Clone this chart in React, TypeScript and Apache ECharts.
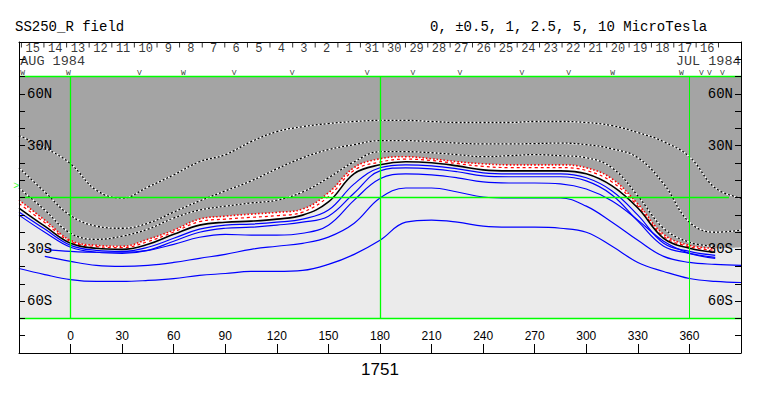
import React, { useEffect, useRef } from "react";
import * as echarts from "echarts";

// Longitude samples (degrees) shared by all contour arrays
const LON = [-30, -15, 0, 15, 30, 45, 60, 75, 90, 105, 120, 135, 150, 165, 180, 195, 210, 225, 240, 255, 270, 285, 300, 315, 330, 345, 360, 375, 390];

// Contour latitudes (degrees)
const PLUS_5 = [35.8, 28.8, 19.5, 4.2, -0.3, 6.1, 13.1, 20.7, 24.8, 32.3, 38.1, 41.0, 42.8, 44.0, 44.6, 44.6, 44.0, 43.4, 43.4, 43.4, 44.0, 44.0, 43.4, 41.6, 37.6, 32.3, 23.6, 5.5, -0.3];
const PLUS_2_5 = [17.2, 3.2, -10.5, -16.6, -17.8, -14.9, -8.4, -2.0, 3.8, 9.6, 16.6, 23.0, 27.7, 30.6, 32.9, 32.9, 32.3, 31.5, 31.0, 31.0, 31.2, 31.5, 30.6, 28.2, 23.0, 7.9, -14.3, -20.1, -18.9];
const PLUS_1 = [5.5, -7.3, -20.7, -24.2, -22.4, -18.3, -11.9, -7.3, -5.0, -3.2, -1.5, 3.2, 11.4, 20.7, 26.5, 26.5, 25.9, 24.8, 23.6, 24.2, 24.8, 24.2, 23.0, 17.2, 0.9, -17.8, -25.9, -28.3, null];
const PLUS_0_5 = [-1.5, -13.1, -24.8, -27.7, -28.2, -24.2, -18.9, -12.5, -10.8, -9.6, -8.6, -6.7, 2.7, 17.4, 22.4, 23.6, 22.4, 20.7, 19.5, 18.9, 18.9, 18.9, 17.2, 10.8, -3.8, -21.3, -27.7, -29.4, -28.8];
const RED_DASH = [-3.5, -14.5, -25.5, -28.4, -29.0, -25.5, -20.0, -14.0, -12.5, -11.5, -10.5, -8.5, 0.5, 15.8, 20.5, 22.2, 21.4, 19.6, 18.0, 17.3, 17.3, 17.3, 15.6, 9.0, -5.0, -22.5, -28.5, -30.5, null];
const ZERO = [-6.1, -16.6, -26.5, -29.4, -30.0, -27.1, -21.3, -16.0, -14.3, -13.7, -12.5, -10.2, -2.6, 13.8, 18.9, 20.7, 20.1, 18.3, 16.0, 15.4, 15.4, 15.4, 13.7, 6.7, -6.1, -23.6, -29.4, -31.7, null];
const MINUS_0_5 = [-8.4, -18.3, -27.7, -30.6, -31.2, -28.8, -23.6, -18.3, -16.0, -15.4, -14.3, -12.5, -7.3, 7.9, 17.2, 18.9, 18.3, 16.6, 14.3, 13.7, 13.7, 13.7, 11.4, 3.8, -10.2, -26.5, -31.2, -33.5, null];
const MINUS_1 = [-10.2, -20.1, -28.8, -31.7, -32.3, -30.6, -25.3, -20.1, -17.8, -17.2, -16.0, -14.3, -10.8, 2.6, 15.4, 17.2, 16.6, 14.9, 12.5, 12.0, 12.0, 12.0, 9.6, 1.5, -13.7, -28.2, -32.3, -34.6, null];
const MINUS_2_5 = [null, -30.0, -31.2, -31.7, -31.7, -30.6, -27.1, -23.0, -21.3, -21.8, -21.8, -20.7, -16.0, -1.5, 10.8, 13.7, 13.1, 11.4, 9.0, 8.4, 8.4, 7.9, 4.9, -2.0, -13.1, -25.3, -32.3, -35.2, null];
const MINUS_5 = [null, -34.1, -37.0, -39.3, -39.9, -39.3, -37.6, -35.2, -32.9, -30.0, -28.2, -26.5, -22.9, -14.9, -0.3, 5.5, 5.5, 3.2, 0.3, -0.3, -0.3, -0.3, -5.0, -14.3, -24.8, -34.1, -37.6, -38.7, -39.3];
const MINUS_10 = [-41.1, -44.6, -47.5, -48.6, -48.6, -48.0, -46.9, -45.1, -44.0, -42.8, -42.8, -42.2, -38.7, -32.9, -24.8, -14.3, -13.1, -14.3, -16.6, -17.2, -17.2, -17.8, -20.1, -28.2, -37.6, -42.8, -46.9, -48.6, -49.2];

// Axis labels
const LAT_LABELS: Record<string, string> = { "60": "60N", "30": "30N", "-30": "30S", "-60": "60S" };
const LON_LABELS = [0, 30, 60, 90, 120, 150, 180, 210, 240, 270, 300, 330, 360];
const X_AXIS_NAME = "1751";

// Date strip (top)
const DAY_LABELS = ["15", "14", "13", "12", "11", "10", "9", "8", "7", "6", "5", "4", "3", "2", "1", "31", "30", "29", "28", "27", "26", "25", "24", "23", "22", "21", "20", "19", "18", "17", "16"];
const DAY_TICK_LON = [-28.6, -15.5, -2.3, 10.8, 24.0, 37.1, 50.3, 63.4, 76.6, 89.7, 102.9, 116.0, 129.2, 142.3, 155.5, 168.6, 181.8, 194.8, 207.8, 220.8, 233.8, 246.8, 259.8, 272.8, 285.9, 298.9, 311.9, 324.9, 337.9, 350.9, 363.9, 376.9];
const MONTH_LEFT = "AUG 1984";
const MONTH_RIGHT = "JUL 1984";
const PASS_LON = [-27.9, -1.2, 40.1, 65.6, 95.2, 128.9, 172.5, 199.2, 226.5, 262.5, 289.7, 315.3, 355.4, 367.0, 371.6, 379.2];
const PASS_TEXT = ["W", "W", "V", "W", "V", "V", "V", "V", "V", "V", "V", "W", "W", "V", "V", "V"];

const TITLE = "SS250_R field";
const LEVELS = "0, ±0.5, 1, 2.5, 5, 10 MicroTesla";

const MAP_EDGE = 70;
const LINE_END = 376;

const DARK = "#a4a4a4";
const LIGHT = "#ebebeb";
const GREEN = "#00ff00";
const BLUE = "#0000ff";
const MONO = '"Liberation Mono", "DejaVu Sans Mono", monospace';
const SANS = '"Liberation Sans", "DejaVu Sans", sans-serif';
const SMOOTH = 0.4;

const pts = (arr: (number | null)[], maxLon = 999) =>
  LON.map((l, i) => [l, arr[i] == null || l > maxLon ? null : arr[i]]);

export default function App() {
  const ref = useRef<HTMLDivElement>(null);
  useEffect(() => {
    if (!ref.current) return;
    const chart = echarts.init(ref.current, undefined, { renderer: "svg" });

    const line = (arr: (number | null)[], style: any, z = 3, maxLon = 999) => ({
      type: "line",
      data: pts(arr, maxLon),
      smooth: SMOOTH,
      symbol: "none",
      silent: true,
      z,
      lineStyle: style,
    });
    const fill = (data: any[], origin: "start" | "end", color: string, smooth: number | boolean = SMOOTH) => ({
      type: "line",
      data,
      smooth,
      symbol: "none",
      silent: true,
      z: 1,
      lineStyle: { width: 0, opacity: 0 },
      areaStyle: { color, opacity: 1, origin },
    });
    const dashedContour = (arr: (number | null)[]) => [
      line(arr, { color: "#ffffff", width: 1.3, type: "solid" }, 3),
      line(arr, { color: "#000000", width: 1.3, type: [2, 2] }, 3),
    ];

    const series: any[] = [
      // light gray map, then clear below -70
      fill(LON.map((l) => [l, MAP_EDGE]), "start", LIGHT, false),
      fill(LON.map((l) => [l, -MAP_EDGE]), "start", "#ffffff", false),
      // white band above the 0 contour
      fill(pts(ZERO, LINE_END), "end", "#ffffff"),
      // dark gray above the +0.5 contour
      fill(pts(PLUS_0_5), "end", DARK),
      // clear above 70N
      fill(LON.map((l) => [l, MAP_EDGE]), "end", "#ffffff", false),
      ...dashedContour(PLUS_5),
      ...dashedContour(PLUS_2_5),
      ...dashedContour(PLUS_1),
      line(PLUS_0_5, { color: "#ff0000", width: 1.6, type: [1.5, 2] }, 3, LINE_END),
      line(RED_DASH, { color: "#ff0000", width: 1.2, type: [3, 3] }, 3, LINE_END),
      line(ZERO, { color: "#000000", width: 1.6, type: "solid" }, 3, LINE_END),
      line(MINUS_0_5, { color: BLUE, width: 1.2 }, 3, LINE_END),
      line(MINUS_1, { color: BLUE, width: 1.2 }, 3, LINE_END),
      line(MINUS_2_5, { color: BLUE, width: 1.2 }, 3, LINE_END),
      line(MINUS_5, { color: BLUE, width: 1.2 }, 3),
      line(MINUS_10, { color: BLUE, width: 1.2 }, 3),
      // green reference lines
      {
        type: "line",
        data: [[-30, null]],
        symbol: "none",
        silent: true,
        z: 4,
        markLine: {
          silent: true,
          symbol: "none",
          animation: false,
          label: { show: false },
          lineStyle: { color: GREEN, width: 1.3, type: "solid" },
          data: [
            [{ coord: [0, -MAP_EDGE] }, { coord: [0, MAP_EDGE] }],
            [{ coord: [180, -MAP_EDGE] }, { coord: [180, MAP_EDGE] }],
            [{ coord: [360, -MAP_EDGE] }, { coord: [360, MAP_EDGE], lineStyle: { width: 1 } }],
            [{ coord: [-30, 0] }, { coord: [383, 0] }],
            [{ coord: [-30, MAP_EDGE] }, { coord: [390, MAP_EDGE] }],
            [{ coord: [-30, -MAP_EDGE] }, { coord: [390, -MAP_EDGE] }],
          ],
        },
      },
      // date ticks
      {
        type: "scatter",
        symbol: "rect",
        symbolSize: [1, 5],
        silent: true,
        z: 6,
        itemStyle: { color: "#000" },
        data: DAY_TICK_LON.map((l) => [l, 88.2]),
      },
      // date labels
      {
        type: "scatter",
        symbolSize: 1,
        silent: true,
        z: 6,
        itemStyle: { color: "rgba(0,0,0,0)" },
        label: { show: true, position: "inside", formatter: "{b}", color: "#000", fontFamily: MONO, fontSize: 12 },
        data: DAY_LABELS.map((d, i) => ({ name: d, value: [(DAY_TICK_LON[i] + DAY_TICK_LON[i + 1]) / 2, 86.2] })),
      },
      // month labels
      {
        type: "scatter",
        symbolSize: 1,
        silent: true,
        z: 6,
        itemStyle: { color: "rgba(0,0,0,0)" },
        label: { show: true, position: "inside", formatter: "{b}", color: "#000", fontFamily: MONO, fontSize: 13.5 },
        data: [
          { name: MONTH_LEFT, value: [-29.3, 78.6], label: { align: "left" } },
          { name: MONTH_RIGHT, value: [389.8, 78.6], label: { align: "right" } },
        ],
      },
      // pass markers
      {
        type: "scatter",
        symbolSize: 1,
        silent: true,
        z: 6,
        itemStyle: { color: "rgba(0,0,0,0)" },
        label: { show: true, position: "inside", formatter: "{b}", color: "#000", fontFamily: MONO, fontSize: 8 },
        data: PASS_LON.map((l, i) => ({ name: PASS_TEXT[i], value: [l, 72.4] })),
      },
      // sub-solar marker at left edge
      {
        type: "scatter",
        symbolSize: 1,
        silent: true,
        clip: false,
        z: 6,
        itemStyle: { color: "rgba(0,0,0,0)" },
        label: { show: true, position: "inside", formatter: "{b}", color: GREEN, fontFamily: MONO, fontSize: 10 },
        data: [{ name: ">", value: [-31.6, 6.2] }],
      },
    ];

    const yAxisBase = (position: "left" | "right") => ({
      type: "value",
      position,
      min: -90,
      max: 90,
      interval: 10,
      z: 10,
      axisLine: { show: true, onZero: false, lineStyle: { color: "#000", width: 1 } },
      splitLine: { show: false },
      axisTick: { show: true, inside: true, length: 6, lineStyle: { color: "#000", width: 1 } },
      axisLabel: {
        inside: true,
        margin: 8,
        color: "#000",
        fontFamily: MONO,
        fontSize: 14,
        formatter: (v: number) => LAT_LABELS[String(v)] ?? "",
      },
    });

    chart.setOption({
      animation: false,
      backgroundColor: "#ffffff",
      grid: { left: 19, right: 22, top: 42, bottom: 43, show: false },
      xAxis: [
        {
          type: "value",
          position: "bottom",
          min: -30,
          max: 390,
          interval: 30,
          z: 10,
          name: X_AXIS_NAME,
          nameLocation: "middle",
          nameGap: 8,
          nameTextStyle: { color: "#000", fontFamily: SANS, fontSize: 17, verticalAlign: "top" },
          axisLine: { show: true, onZero: false, lineStyle: { color: "#000", width: 1 } },
          splitLine: { show: false },
          axisTick: { show: true, inside: true, length: 9, lineStyle: { color: "#000", width: 1 } },
          axisLabel: {
            inside: true,
            margin: 11,
            color: "#000",
            fontFamily: SANS,
            fontSize: 12,
            formatter: (v: number) => (LON_LABELS.includes(v) ? String(v) : ""),
          },
        },
        {
          type: "value",
          position: "top",
          min: -30,
          max: 390,
          z: 10,
          axisLine: { show: true, onZero: false, lineStyle: { color: "#000", width: 1 } },
          splitLine: { show: false },
          axisTick: { show: false },
          axisLabel: { show: false },
        },
      ],
      yAxis: [yAxisBase("left"), yAxisBase("right")],
      graphic: [
        { type: "text", left: 15, top: 20, style: { text: TITLE, font: `14px ${MONO}`, fill: "#000" } },
        { type: "text", left: 430, top: 20, style: { text: LEVELS, font: `14px ${MONO}`, fill: "#000" } },
      ],
      series,
    });
    return () => chart.dispose();
  }, []);

  return <div ref={ref} style={{ position: "fixed", left: 0, top: 0, width: 763, height: 396 }} />;
}
